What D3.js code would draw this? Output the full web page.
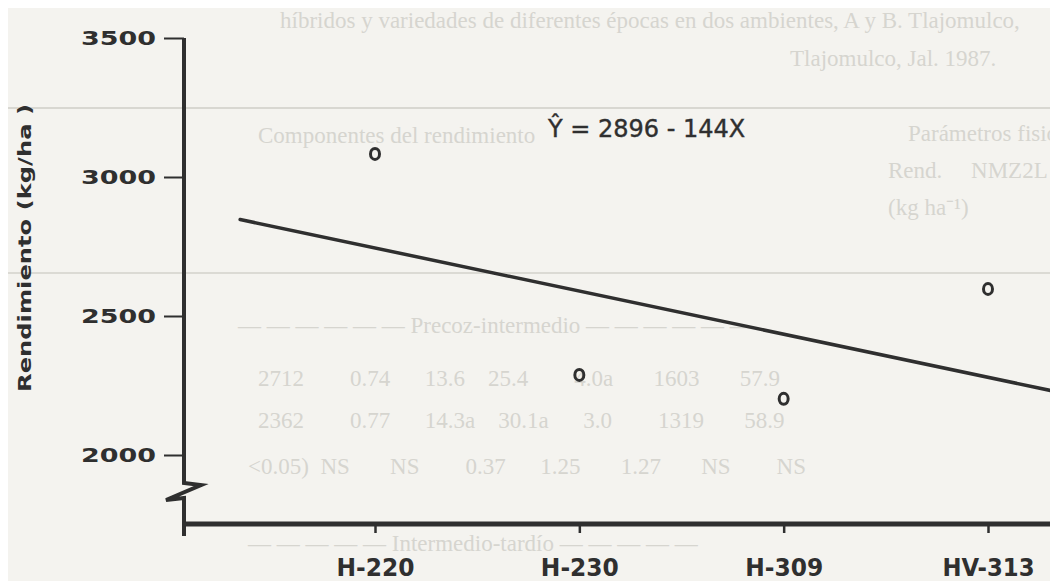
<meta charset="utf-8">
<svg width="1058" height="581"></svg>
<script src="https://d3js.org/d3.v7.min.js"></script>
<script>
// hibridos (eje x) y rendimiento medio (kg/ha)
var hybrids = ["H-220", "H-230", "H-309", "HV-313"];
var hybridX = [1, 2, 3, 4];
var rendimiento = [3083, 2288, 2202, 2597];
var yTicks = [2000, 2500, 3000, 3500];
// recta de regresion tal como esta dibujada
var fitX = [0.34, 4.32];
var fitY = [2847, 2230];
var equation = "Ŷ = 2896 - 144X";

// texto del reverso de la hoja (se transparenta en el escaneo)
var bleedText = [
  "híbridos y variedades de diferentes épocas en dos ambientes, A y B. Tlajomulco,",
  "Tlajomulco, Jal. 1987.",
  "Componentes del rendimiento",
  "Parámetros fisio",
  "Rend.     NMZ2L",
  "(kg ha⁻¹)",
  "— — — — — — Precoz-intermedio — — — — — —",
  "2712        0.74      13.6    25.4        4.0a       1603       57.9",
  "2362        0.77      14.3a    30.1a      3.0        1319       58.9",
  "<0.05)  NS       NS        0.37      1.25       1.27       NS        NS",
  "— — — — — Intermedio-tardío — — — — —"
];
var bgPos = [[272, 20], [782, 58], [250, 135], [900, 133], [880, 170], [880, 207],
             [230, 325], [250, 378], [250, 420], [240, 466], [240, 543]];

var svg = d3.select("svg"),
    width = +svg.attr("width"),
    height = +svg.attr("height");

var ink = "#2f2f2f";

svg.append("rect")
  .attr("width", width)
  .attr("height", height)
  .attr("fill", "#f4f3ef");

// ---- fondo transparentado ----
var bg = svg.append("g")
  .attr("fill", "#d6d5cf")
  .attr("font-family", "Liberation Serif")
  .attr("font-size", 23);
bg.selectAll("text")
  .data(bleedText)
  .enter().append("text")
    .attr("x", function(d, i) { return bgPos[i][0]; })
    .attr("y", function(d, i) { return bgPos[i][1]; })
    .attr("xml:space", "preserve")
    .style("white-space", "pre")
    .text(function(d) { return d; });
bg.append("line").attr("x1", 0).attr("x2", width).attr("y1", 100).attr("y2", 100)
  .attr("stroke", "#d8d7d1").attr("stroke-width", 2);
bg.append("line").attr("x1", 0).attr("x2", width).attr("y1", 265).attr("y2", 265)
  .attr("stroke", "#dbdad4").attr("stroke-width", 2);

// ---- escalas ----
var x = d3.scaleLinear().domain([1, 4]).range([367, 980]);
var y = d3.scaleLinear().domain([2000, 3500]).range([447, 30]);

var axisX = 176, baseY = 516, breakY = 475;

// eje y con corte
var yPath = d3.path();
yPath.moveTo(axisX, y(3500));
yPath.lineTo(axisX, breakY);
yPath.lineTo(193, breakY + 2);
yPath.lineTo(158, breakY + 17);
yPath.lineTo(axisX, breakY + 15);
yPath.lineTo(axisX, baseY + 12);
svg.append("path")
  .attr("d", yPath.toString())
  .attr("fill", "none")
  .attr("stroke", ink)
  .attr("stroke-width", 4)
  .attr("stroke-linejoin", "miter");

var gy = svg.append("g")
  .attr("transform", "translate(" + axisX + ",0)")
  .call(d3.axisLeft(y).tickValues(yTicks).tickSize(20).tickPadding(8).tickFormat(d3.format("d")));
gy.select(".domain").remove();
gy.selectAll("line").attr("stroke", ink).attr("stroke-width", 2);
gy.selectAll("text")
  .attr("fill", ink)
  .attr("font-family", "DejaVu Sans")
  .attr("font-weight", "bold")
  .attr("font-size", 19)
  .attr("textLength", 75)
  .attr("lengthAdjust", "spacingAndGlyphs");

// eje x
svg.append("line")
  .attr("x1", axisX).attr("x2", 1055)
  .attr("y1", baseY).attr("y2", baseY)
  .attr("stroke", ink).attr("stroke-width", 5);
svg.append("line")
  .attr("x1", 1053).attr("x2", 1053)
  .attr("y1", baseY - 9).attr("y2", baseY + 12)
  .attr("stroke", ink).attr("stroke-width", 2.5);

var gx = svg.append("g")
  .attr("transform", "translate(0," + baseY + ")")
  .call(d3.axisBottom(x).tickValues(hybridX).tickSize(9).tickPadding(26)
    .tickFormat(function(d, i) { return hybrids[i]; }));
gx.select(".domain").remove();
gx.selectAll("line").attr("stroke", ink).attr("stroke-width", 2.5);
gx.selectAll("text")
  .attr("fill", ink)
  .attr("font-family", "DejaVu Sans")
  .attr("font-weight", "bold")
  .attr("font-size", 24)
  .attr("textLength", function(d, i) { return hybrids[i].length > 5 ? 92 : 78; })
  .attr("lengthAdjust", "spacingAndGlyphs");

// titulo eje y
svg.append("text")
  .attr("transform", "translate(23,240) rotate(-90)")
  .attr("text-anchor", "middle")
  .attr("fill", ink)
  .attr("font-family", "DejaVu Sans")
  .attr("font-weight", "bold")
  .attr("font-size", 17)
  .attr("textLength", 288)
  .attr("lengthAdjust", "spacingAndGlyphs")
  .text("Rendimiento (kg/ha )");

// recta de regresion
var line = d3.line()
  .x(function(d) { return x(d[0]); })
  .y(function(d) { return y(d[1]); });
svg.append("path")
  .datum(d3.zip(fitX, fitY))
  .attr("d", line)
  .attr("fill", "none")
  .attr("stroke", ink)
  .attr("stroke-width", 3.5)
  .attr("stroke-linecap", "round");

// puntos observados
svg.append("g")
  .selectAll("ellipse")
  .data(rendimiento)
  .enter().append("ellipse")
    .attr("cx", function(d, i) { return x(hybridX[i]); })
    .attr("cy", function(d) { return y(d); })
    .attr("rx", 4.5)
    .attr("ry", 5.5)
    .attr("fill", "none")
    .attr("stroke", ink)
    .attr("stroke-width", 3);

// ecuacion
svg.append("text")
  .attr("x", 540)
  .attr("y", 129)
  .attr("fill", ink)
  .attr("stroke", ink)
  .attr("stroke-width", 0.4)
  .attr("font-family", "DejaVu Sans")
  .attr("font-size", 24)
  .text(equation);
</script>
